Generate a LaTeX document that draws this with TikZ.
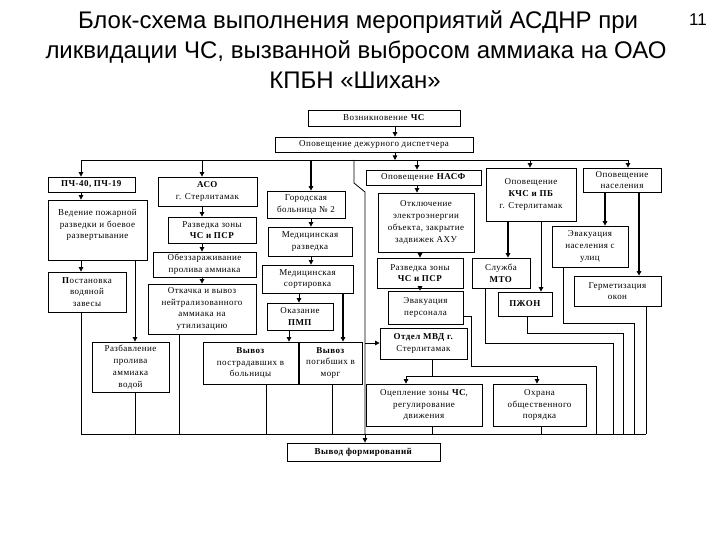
\documentclass[tikz,border=0pt]{standalone}
\usepackage{fontspec}
\setmainfont{Liberation Serif}
\newfontfamily\boxfont[LetterSpace=5]{Liberation Serif}
\newfontfamily\titlefont{Liberation Sans}
\usetikzlibrary{arrows.meta}
\tikzset{
 box/.style={draw, line width=0.8pt, inner sep=0pt, align=center, font=\boxfont\fontsize{9}{11.8}\selectfont},
 ln/.style={line width=0.8pt},
 arr/.style={ln, -{Triangle[length=4.5pt,width=4.5pt]}},
 thk/.style={line width=1.7pt},
 ttl/.style={font=\titlefont\fontsize{24}{30}\selectfont, anchor=base},
}
\newcommand\bx[6]{%
 \pgfmathsetmacro\myw{#4-#2}\pgfmathsetmacro\myh{#5-#3}%
 \pgfmathsetmacro\mycx{(#2+#4)/2}\pgfmathsetmacro\mycy{(#3+#5)/2}%
 \node[box, minimum width=\myw pt, minimum height=\myh pt] (#1) at (\mycx,\mycy) {#6};}
\begin{document}
\begin{tikzpicture}[x=1pt,y=-1pt]
\useasboundingbox[fill=white] (0,0) rectangle (720,540);
% title
\node[ttl] (t1) at (358,29) {Блок-схема выполнения мероприятий АСДНР при};
\node[ttl] (t2) at (356,59) {ликвидации ЧС, вызванной выбросом аммиака на ОАО};
\node[ttl] (t3) at (355,89) {КПБН «Шихан»};
\node[ttl, font=\titlefont\fontsize{17}{20}\selectfont] (pg) at (698,26) {11};
% boxes
\bx{voz}{308}{110}{460}{126}{Возникновение \textbf{ЧС}}
\bx{disp}{275}{137}{473}{152}{Оповещение дежурного диспетчера}
\bx{pch}{48}{177}{135}{192}{\textbf{ПЧ-40, ПЧ-19}}
\bx{ved}{48}{200}{147}{260}{Ведение пожарной\\ разведки и боевое\\ развертывание\\ \mbox{}}
\bx{post}{48}{272}{126}{312}{\textbf{П}остановка\\ водяной\\ завесы}
\bx{razb}{92}{342}{169}{392}{Разбавление\\ пролива\\ аммиака\\ водой}
\bx{aso}{158}{177}{257}{206}{\textbf{АСО}\\ г. Стерлитамак}
\bx{razvA}{168}{217}{256}{243}{Разведка зоны\\ \textbf{ЧС и ПСР}}
\bx{obez}{153}{252}{256}{277}{Обеззараживание\\ пролива аммиака}
\bx{otk}{148}{284}{256}{334}{Откачка и вывоз\\ нейтрализованного\\ аммиака на\\ утилизацию}
\bx{gor}{267}{191}{345}{218}{Городская\\ больница № 2}
\bx{medr}{268}{227}{352}{256}{Медицинская\\ разведка}
\bx{sort}{262}{265}{353}{293}{Медицинская\\ сортировка}
\bx{pmp}{267}{303}{333}{330}{Оказание\\ \textbf{ПМП}}
\bx{vyvp}{203}{342}{298}{384}{\textbf{Вывоз}\\ пострадавших в\\ больницы}
\bx{morg}{299}{342}{362}{384}{\textbf{Вывоз}\\ погибших в\\ морг}
\bx{nasf}{366}{170}{481}{185}{Оповещение \textbf{НАСФ}}
\bx{otkl}{378}{193}{474}{252}{Отключение\\ электроэнергии\\ объекта, закрытие\\ задвижек АХУ}
\bx{razvB}{377}{258}{463}{288}{Разведка зоны\\ \textbf{ЧС и ПСР}}
\bx{evp}{388}{291}{463}{324}{Эвакуация\\ персонала}
\bx{otdel}{380}{328}{467}{359}{\textbf{Отдел МВД г.}\\ Стерлитамак}
\bx{ocep}{366}{384}{482}{426}{Оцепление зоны \textbf{ЧС},\\ регулирование\\ движения}
\bx{ohr}{493}{384}{586}{426}{Охрана\\ общественного\\ порядка}
\bx{vyvf}{287}{443}{440}{461}{\textbf{Вывод формирований}}
\bx{kchs}{486}{168}{576}{221}{Оповещение\\ \textbf{КЧС и ПБ}\\ г. Стерлитамак}
\bx{opn}{583}{168}{661}{192}{Оповещение\\ населения}
\bx{mto}{472}{258}{530}{288}{Служба\\ \textbf{МТО}}
\bx{pzh}{498}{292}{552}{316}{\textbf{ПЖОН}}
\bx{evn}{552}{226}{628}{267}{Эвакуация\\ населения с\\ улиц}
\bx{germ}{574}{276}{661}{306}{Герметизация\\ окон}
% coordinates
\coordinate (tbL) at (81,160);
\coordinate (tbR) at (628,160);
\coordinate (t202) at (202,160);
\coordinate (t311) at (311,160);
\coordinate (t354) at (354,160);
\coordinate (t395) at (395,160);
\coordinate (t417) at (417,160);
\coordinate (t530) at (530,160);
\coordinate (dg1) at (354,183);
\coordinate (dg2) at (365,192);
\coordinate (bbL) at (81,434);
\coordinate (bbR) at (646,434);
\coordinate (b365) at (365,434);
\coordinate (m365) at (365,343);
\coordinate (x135) at (135,434);
\coordinate (x179) at (179,434);
\coordinate (x266) at (266,434);
\coordinate (x332) at (332,434);
\coordinate (x432) at (432,434);
\coordinate (x541) at (541,434);
\coordinate (x596) at (596,434);
\coordinate (x613) at (613,434);
\coordinate (x623) at (623,434);
\coordinate (x634) at (634,434);
\coordinate (k289) at (289,336);
\coordinate (k299) at (299,298);
\coordinate (k343) at (343,320);
\coordinate (k420) at (420,290);
\coordinate (k508) at (508,240);
\coordinate (k541) at (541,260);
\coordinate (k605) at (605,210);
\coordinate (k639) at (639,240);
\coordinate (j376) at (432,376);
\coordinate (h406) at (406,376);
\coordinate (h537) at (537,376);
\coordinate (e1) at (471,316);
\coordinate (e2) at (471,366);
\coordinate (e3) at (596,366);
\coordinate (m1) at (485,343);
\coordinate (m2) at (613,343);
\coordinate (p1) at (527,333);
\coordinate (p2) at (623,333);
\coordinate (n1) at (563,323);
\coordinate (n2) at (634,323);
% top part
\draw[arr] (voz.south -| t395) -- (disp.north -| t395);
\draw[arr] (disp.south -| t395) -- (t395);
\draw[ln] (tbL) -- (tbR);
\draw[arr] (tbL) -- (tbL |- pch.north);
\draw[arr] (t202) -- (t202 |- aso.north);
\draw[arr,thk] (t311) -- (t311 |- gor.north);
\draw[arr] (t417) -- (t417 |- nasf.north);
\draw[arr] (t530) -- (t530 |- kchs.north);
\draw[arr] (tbR) -- (tbR |- opn.north);
\draw[ln] (t354) -- (dg1) -- (dg2) -- (b365);
\draw[arr] (m365) -- (otdel.west |- m365);
% left column
\draw[arr] (pch.south -| tbL) -- (ved.north -| tbL);
\draw[arr] (ved.south -| tbL) -- (post.north -| tbL);
\draw[ln] (post.south -| tbL) -- (bbL);
\draw[arr] (ved.south -| x135) -- (razb.north -| x135);
\draw[ln] (razb.south -| x135) -- (x135);
% ASO column
\draw[arr] (aso.south -| t202) -- (razvA.north -| t202);
\draw[arr] (razvA.south -| t202) -- (obez.north -| t202);
\draw[arr] (obez.south -| t202) -- (otk.north -| t202);
\draw[ln] (otk.south -| x179) -- (x179);
% hospital column
\draw[arr] (gor.south -| t311) -- (medr.north -| t311);
\draw[arr] (medr.south -| t311) -- (sort.north -| t311);
\draw[arr] (sort.south -| k299) -- (pmp.north -| k299);
\draw[arr,thk] (sort.south -| k343) -- (morg.north -| k343);
\draw[arr] (pmp.south -| k289) -- (vyvp.north -| k289);
\draw[ln] (vyvp.south -| x266) -- (x266);
\draw[ln] (morg.south -| x332) -- (x332);
% NASF column
\draw[arr] (nasf.south -| t417) -- (otkl.north -| t417);
\draw[arr] (otkl.south -| k420) -- (razvB.north -| k420);
\draw[arr] (razvB.south -| k420) -- (evp.north -| k420);
\draw[ln] (otdel.south -| x432) -- (j376);
\draw[ln] (h406) -- (h537);
\draw[arr] (h406) -- (ocep.north -| h406);
\draw[arr] (h537) -- (ohr.north -| h537);
\draw[ln] (ocep.south -| x432) -- (x432);
\draw[ln] (ohr.south -| x541) -- (x541);
\draw[ln] (evp.east |- e1) -- (e1) -- (e2) -- (e3) -- (x596);
% right part
\draw[arr,thk] (kchs.south -| k508) -- (mto.north -| k508);
\draw[arr] (kchs.south -| k541) -- (pzh.north -| k541);
\draw[arr,thk] (opn.south -| k605) -- (evn.north -| k605);
\draw[arr,thk] (opn.south -| k639) -- (germ.north -| k639);
\draw[ln] (mto.south -| m1) -- (m1) -- (m2) -- (x613);
\draw[ln] (pzh.south -| p1) -- (p1) -- (p2) -- (x623);
\draw[ln] (evn.south -| n1) -- (n1) -- (n2) -- (x634);
\draw[ln] (germ.south -| bbR) -- (bbR);
% bottom
\draw[ln] (bbL) -- (bbR);
\draw[arr] (b365) -- (vyvf.north -| b365);
\end{tikzpicture}
\end{document}
